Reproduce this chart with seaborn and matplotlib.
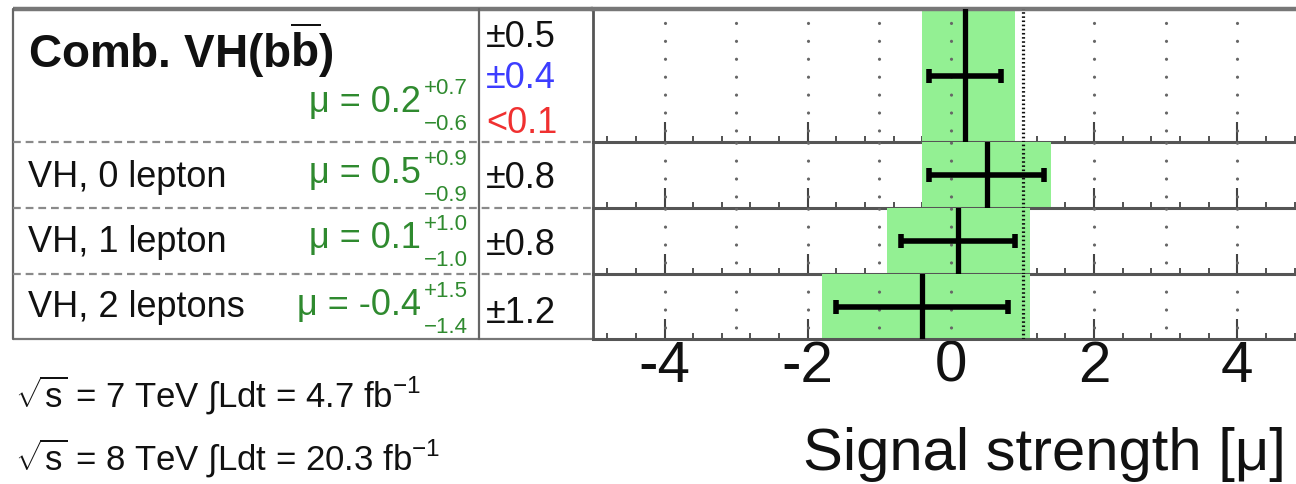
import numpy as np
import matplotlib
matplotlib.use("Agg")
import matplotlib.pyplot as plt
from matplotlib.ticker import MultipleLocator, FixedLocator
import seaborn as sns

# ---------------- data ----------------
channels = [r"Comb. VH(b$\overline{\mathbf{b}}$)", "VH, 0 lepton", "VH, 1 lepton", "VH, 2 leptons"]
mu = [0.2, 0.5, 0.1, -0.4]
tot_up = [0.7, 0.9, 1.0, 1.5]
tot_dn = [0.6, 0.9, 1.0, 1.4]
stat = [0.5, 0.8, 0.8, 1.2]
mu_labels = ["0.2", "0.5", "0.1", "-0.4"]
up_labels = ["+0.7", "+0.9", "+1.0", "+1.5"]
dn_labels = ["\u22120.6", "\u22120.9", "\u22121.0", "\u22121.4"]
stat_labels = ["\u00b10.5", "\u00b10.8", "\u00b10.8", "\u00b11.2"]
syst_label_comb = "\u00b10.4"
theo_label_comb = "<0.1"
sm_mu = 1.0
x_ticks = [-4, -2, 0, 2, 4]
grid_vals = [-4, -3, -2, -1, 0, 2, 3, 4]
xlabel = "Signal strength [\u03bc]"
lumi_lines = [r"$\sqrt{\mathrm{s}}$ = 7 TeV $\int$Ldt = 4.7 fb$^{\mathrm{-1}}$",
              r"$\sqrt{\mathrm{s}}$ = 8 TeV $\int$Ldt = 20.3 fb$^{\mathrm{-1}}$"]

# ---------------- style ----------------
sns.set_theme(style="white")
plt.rcParams["font.family"] = ["Liberation Sans", "DejaVu Sans"]
plt.rcParams["mathtext.fontset"] = "custom"
plt.rcParams["mathtext.rm"] = "Liberation Sans"
plt.rcParams["mathtext.it"] = "Liberation Sans:italic"
plt.rcParams["mathtext.bf"] = "Liberation Sans:bold"
plt.rcParams["mathtext.sf"] = "Liberation Sans"
plt.rcParams["axes.unicode_minus"] = False

GREEN_TXT = "#2f8a2f"
BLUE_TXT = "#3d3dff"
RED_TXT = "#f03030"
BAND = "#93f093"
EDGE = "#555555"

W, H = 1296, 485
fig = plt.figure(figsize=(W / 100, H / 100), dpi=100)


def box(x0, y0, x1, y1):
    return [x0 / W, 1 - y1 / H, (x1 - x0) / W, (y1 - y0) / H]


row_edges = [10, 143, 209, 275, 340]
plot_left, plot_right = 593, 1296
table_left, col_div = 13, 479

# overlay axes in pixel coordinates for the table and free texts
ov = fig.add_axes([0, 0, 1, 1], zorder=0)
ov.set_xlim(0, W)
ov.set_ylim(H, 0)
ov.axis("off")

# table frame
ov.plot([table_left, plot_left], [row_edges[0], row_edges[0]], color="#777777", lw=3.2, solid_capstyle="butt")
ov.plot([table_left, plot_left], [row_edges[-1], row_edges[-1]], color="#777777", lw=1.6, solid_capstyle="butt")
ov.plot([table_left, table_left], [row_edges[0], row_edges[-1]], color="#666666", lw=1.6)
ov.plot([col_div, col_div], [row_edges[0], row_edges[-1]], color="#666666", lw=1.6)
for yb in row_edges[1:-1]:
    ov.plot([table_left, plot_left], [yb, yb], color="#8a8a8a", lw=1.6, ls=(0, (3.5, 2.2)))

# text in the table
name_base = [68, 187, 252, 317]
mu_base = [112, 183, 248, 315]
for i in range(4):
    ov.text(28, name_base[i], channels[i], ha="left", va="baseline",
            fontsize=33 if i == 0 else 26, fontweight="bold" if i == 0 else "normal", color="#111111")
    ov.text(421, mu_base[i], "\u03bc = " + mu_labels[i], ha="right", va="baseline",
            fontsize=26, color=GREEN_TXT)
    ov.text(468, mu_base[i] - 18, up_labels[i], ha="right", va="baseline", fontsize=16, color=GREEN_TXT)
    ov.text(468, mu_base[i] + 18, dn_labels[i], ha="right", va="baseline", fontsize=16, color=GREEN_TXT)

stat_base = [47, 188, 255, 323]
for i in range(4):
    ov.text(486, stat_base[i], stat_labels[i], ha="left", va="baseline", fontsize=26, color="#111111")
ov.text(486, 88, syst_label_comb, ha="left", va="baseline", fontsize=26, color=BLUE_TXT)
ov.text(486, 133, theo_label_comb, ha="left", va="baseline", fontsize=26, color=RED_TXT)

# luminosity text
ov.text(15, 407, lumi_lines[0], ha="left", va="baseline", fontsize=25, color="#111111")
ov.text(15, 470, lumi_lines[1], ha="left", va="baseline", fontsize=25, color="#111111")

# x-axis title
ov.text(1286, 470, xlabel, ha="right", va="baseline", fontsize=43, color="#111111")

# ---------------- the rows of the plot ----------------
xmin, xmax = -5.0, 4.82
for i in range(4):
    ax = fig.add_axes(box(plot_left, row_edges[i], plot_right, row_edges[i + 1]), zorder=2)
    ax.set_facecolor("none")
    ax.set_xlim(xmin, xmax)
    ax.set_ylim(0, 1)
    ax.set_yticks([])
    ax.spines["right"].set_visible(False)
    ax.spines["top"].set_visible(i == 0)
    ax.spines["top"].set_color("#777777")
    ax.spines["top"].set_linewidth(3.2)
    ax.spines["left"].set_color(EDGE)
    ax.spines["left"].set_linewidth(2.0)
    ax.spines["bottom"].set_color("#555555")
    ax.spines["bottom"].set_linewidth(2.2)

    ax.xaxis.set_major_locator(FixedLocator(x_ticks))
    ax.xaxis.set_minor_locator(MultipleLocator(0.4))
    ax.tick_params(axis="x", which="major", direction="in", length=14.5, width=1.5,
                   color="#444444", bottom=True, top=False, labelbottom=(i == 3),
                   labelsize=42, pad=0, labelcolor="#111111")
    ax.tick_params(axis="x", which="minor", direction="in", length=4.5, width=1.3,
                   color="#444444", bottom=True, top=False)
    ax.grid(False)

    # total uncertainty band
    ax.axvspan(mu[i] - tot_dn[i], mu[i] + tot_up[i], color=BAND, lw=0, zorder=1)
    # grid of dots
    gl = ax.vlines(grid_vals, 0, 1, transform=ax.get_xaxis_transform(), colors="#666666",
                   linestyles=(2, (0.01, 5.6)), lw=2.3, zorder=2)
    gl.set_capstyle("round")
    # SM expectation
    ax.axvline(sm_mu, color="#111111", lw=2.3, ls=(0, (0.5, 0.8)), zorder=3)
    # central value
    ax.axvline(mu[i], color="black", lw=3.8, zorder=4)
    # statistical error
    ax.errorbar([mu[i]], [0.5], xerr=[stat[i]], fmt="none", ecolor="black",
                elinewidth=4.0, capsize=5, capthick=4.0, zorder=5)

fig.savefig("out.png", dpi=100)
